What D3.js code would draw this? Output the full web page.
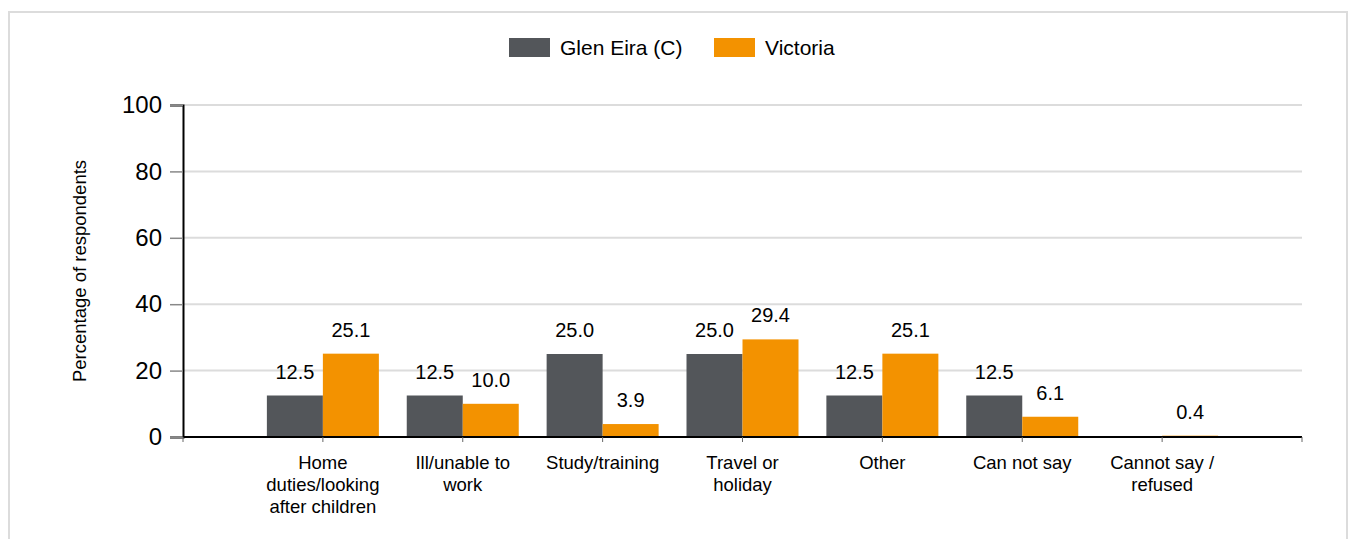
<!DOCTYPE html>
<html>
<head>
<meta charset="utf-8">
<script src="https://cdn.jsdelivr.net/npm/d3@7"></script>
<style>
  body { margin: 0; background: #fff; font-family: "Liberation Sans", Arial, sans-serif; }
  .grid line { stroke: #dcdcdc; stroke-width: 2; }
  .tick text { fill: #000; }
</style>
</head>
<body>
<svg id="chart" width="1349" height="539"></svg>
<script>
// data
var categories = ["Home duties/looking after children", "Ill/unable to work", "Study/training",
  "Travel or holiday", "Other", "Can not say", "Cannot say / refused"];
var catLines = [["Home", "duties/looking", "after children"], ["Ill/unable to", "work"], ["Study/training"],
  ["Travel or", "holiday"], ["Other"], ["Can not say"], ["Cannot say /", "refused"]];
var seriesNames = ["Glen Eira (C)", "Victoria"];
var glenEira = [12.5, 12.5, 25.0, 25.0, 12.5, 12.5, null];
var victoria = [25.1, 10.0, 3.9, 29.4, 25.1, 6.1, 0.4];
var yTicks = [0, 20, 40, 60, 80, 100];
var colors = ["#53565a", "#f39200"];

var svg = d3.select("#chart");
var plotL = 183, plotR = 1302, plotT = 105, plotB = 437;

// frame
svg.append("rect")
  .attr("x", 9).attr("y", 12).attr("width", 1338).attr("height", 540)
  .attr("fill", "none").attr("stroke", "#dcdcdc").attr("stroke-width", 2);

var x = d3.scalePoint().domain(categories).range([plotL, plotR]).padding(1);
var y = d3.scaleLinear().domain([0, 100]).range([plotB, plotT]);
var barW = 56;

// gridlines
svg.append("g").attr("class", "grid")
  .selectAll("line").data(yTicks.slice(1)).enter().append("line")
  .attr("x1", plotL).attr("x2", plotR)
  .attr("y1", function(d){ return y(d); }).attr("y2", function(d){ return y(d); });

// y axis
var yAxis = svg.append("g")
  .attr("transform", "translate(" + plotL + ",0)")
  .call(d3.axisLeft(y).tickValues(yTicks).tickSize(13).tickPadding(8));
yAxis.select(".domain").attr("stroke", "#000").attr("stroke-width", 2);
yAxis.selectAll(".tick line").attr("stroke", "#888").attr("stroke-width", 1.5);
yAxis.selectAll(".tick text").attr("font-size", 24).attr("font-family", "Liberation Sans, Arial, sans-serif");

svg.append("text")
  .attr("transform", "translate(86," + ((plotT + plotB) / 2) + ") rotate(-90)")
  .attr("text-anchor", "middle").attr("font-size", 18.5)
  .text("Percentage of respondents");

// bars
[glenEira, victoria].forEach(function(vals, s) {
  var rows = vals.map(function(v, i){ return { cat: categories[i], v: v }; })
    .filter(function(r){ return r.v !== null; });
  var off = s === 0 ? -barW : 0;
  var g = svg.append("g");
  g.selectAll("rect").data(rows).enter().append("rect")
    .attr("x", function(r){ return x(r.cat) + off; })
    .attr("y", function(r){ return y(r.v); })
    .attr("width", barW)
    .attr("height", function(r){ return plotB - y(r.v); })
    .attr("fill", colors[s]);
  g.selectAll("text").data(rows).enter().append("text")
    .attr("x", function(r){ return x(r.cat) + off + barW / 2; })
    .attr("y", function(r){ return y(r.v) - 17; })
    .attr("text-anchor", "middle").attr("font-size", 20)
    .text(function(r){ return r.v.toFixed(1); });
});

// x axis
var xAxisG = svg.append("g").attr("transform", "translate(0," + plotB + ")");
xAxisG.append("line").attr("x1", plotL).attr("x2", plotR).attr("stroke", "#000").attr("stroke-width", 2);
xAxisG.selectAll(".xt").data([plotL].concat(categories.map(function(c){ return x(c); }), [plotR]))
  .enter().append("line")
  .attr("x1", function(d){ return d; }).attr("x2", function(d){ return d; })
  .attr("y1", 0).attr("y2", 5).attr("stroke", "#666").attr("stroke-width", 1);
categories.forEach(function(c, i) {
  var t = xAxisG.append("text").attr("text-anchor", "middle").attr("font-size", 18.5)
    .attr("transform", "translate(" + x(c) + ",32)");
  catLines[i].forEach(function(l, j) {
    t.append("tspan").attr("x", 0).attr("dy", j === 0 ? 0 : 22).text(l);
  });
});

// legend
var legendX = [509, 714];
seriesNames.forEach(function(n, i) {
  svg.append("rect").attr("x", legendX[i]).attr("y", 38).attr("width", 41).attr("height", 19)
    .attr("fill", colors[i]);
  svg.append("text").attr("x", legendX[i] + 51).attr("y", 55).attr("font-size", 21).text(n);
});
</script>
</body>
</html>
